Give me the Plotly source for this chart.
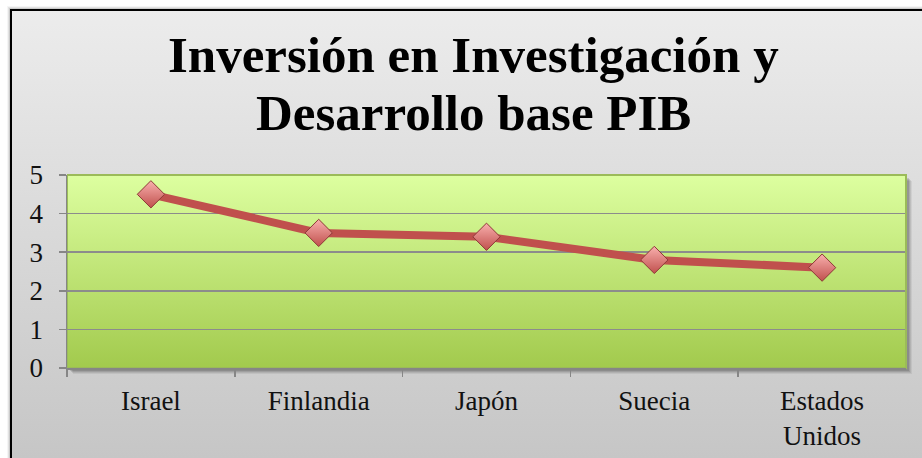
import plotly.graph_objects as go

# ---- data ----
countries = ["Israel", "Finlandia", "Japón", "Suecia", "Estados Unidos"]
tick_labels = ["Israel", "Finlandia", "Japón", "Suecia", "Estados<br>Unidos"]
values = [4.5, 3.5, 3.4, 2.8, 2.6]
y_ticks = [0, 1, 2, 3, 4, 5]

W, H = 922, 458
PL, PR, PT, PB = 67, 906, 175, 368  # plot area in px

fig = go.Figure()

def rect(x0, y0, x1, y1):
    return [x0, x1, x1, x0, x0], [y0, y0, y1, y1, y0]

# outer shadow around the chart border
for off, a in [(4, 0.04), (3, 0.07), (2, 0.1)]:
    xs, ys = rect(11 - off, 10 - off, W + 20, H + 20)
    fig.add_trace(go.Scatter(x=xs, y=ys, mode="lines", fill="toself", line=dict(width=0),
                             fillcolor=f"rgba(0,0,0,{a})", hoverinfo="skip", showlegend=False,
                             xaxis="x", yaxis="y"))
# outer gray gradient
xs, ys = rect(12, 11, W + 20, H + 20)
fig.add_trace(go.Scatter(x=xs, y=ys, mode="lines", fill="toself", line=dict(width=0),
                         fillgradient=dict(type="vertical", start=11, stop=H,
                                           colorscale=[[0, "#ececec"], [1, "#c6c6c6"]]),
                         hoverinfo="skip", showlegend=False, xaxis="x", yaxis="y"))
# plot-area shadow
for off, a in [(6, 0.06), (5, 0.08), (4, 0.1), (3, 0.12)]:
    xs, ys = rect(PL + off, PT + off, PR + off, PB + off)
    fig.add_trace(go.Scatter(x=xs, y=ys, mode="lines", fill="toself", line=dict(width=0),
                             fillcolor=f"rgba(0,0,0,{a})", hoverinfo="skip", showlegend=False,
                             xaxis="x", yaxis="y"))
# green gradient plot area
xs, ys = rect(PL, PT, PR, PB)
fig.add_trace(go.Scatter(x=xs, y=ys, mode="lines", fill="toself", line=dict(width=2, color="#9bbb59"),
                         fillgradient=dict(type="vertical", start=PT, stop=PB,
                                           colorscale=[[0, "#ddffa0"], [1, "#a2ca4d"]]),
                         hoverinfo="skip", showlegend=False, xaxis="x", yaxis="y"))

# data line
fig.add_trace(go.Scatter(
    x=countries, y=values, mode="lines+markers",
    line=dict(color="#c0504d", width=8),
    marker=dict(symbol="diamond", size=21, color="#f9b0ae",
                gradient=dict(type="vertical", color="#c0504d"),
                line=dict(color="#8c3836", width=1)),
    showlegend=False, xaxis="x2", yaxis="y2"))

serif = "Liberation Serif"
fig.update_layout(
    width=W, height=H,
    margin=dict(l=0, r=0, t=0, b=0, autoexpand=False),
    paper_bgcolor="#ffffff", plot_bgcolor="rgba(0,0,0,0)",
    xaxis=dict(domain=[0, 1], range=[0, W], visible=False, fixedrange=True),
    yaxis=dict(domain=[0, 1], range=[H, 0], visible=False, fixedrange=True),
    xaxis2=dict(domain=[PL / W, PR / W], anchor="y2", type="category",
                categoryorder="array", categoryarray=countries,
                tickvals=countries, ticktext=tick_labels,
                range=[-0.5, 4.5], tickson="boundaries", ticks="outside", ticklen=7,
                tickcolor="#868686", tickwidth=1.5,
                showline=True, linecolor="#868686", linewidth=1.5, showgrid=False,
                tickfont=dict(family=serif, size=27, color="#111111"),
                ticklabelstandoff=8),
    yaxis2=dict(domain=[(H - PB) / H, (H - PT) / H], anchor="x2", range=[0, 5],
                tickvals=y_ticks, ticks="outside", ticklen=7, tickcolor="#868686", tickwidth=1.5,
                showline=True, linecolor="#868686", linewidth=1.5,
                showgrid=True, gridcolor="#8c8c8c", gridwidth=1.5,
                tickfont=dict(family=serif, size=27, color="#111111"),
                ticklabelstandoff=10, zeroline=False),
    annotations=[
        dict(text="<b>Inversión en Investigación y</b>", x=473 / W, y=1 - 85 / H,
             xref="paper", yref="paper", xanchor="center", yanchor="bottom", showarrow=False,
             font=dict(family="Liberation Serif", size=51, color="#000000")),
        dict(text="<b>Desarrollo base PIB</b>", x=473 / W, y=1 - 143 / H,
             xref="paper", yref="paper", xanchor="center", yanchor="bottom", showarrow=False,
             font=dict(family="Liberation Serif", size=51, color="#000000")),
    ],
    shapes=[
        dict(type="rect", xref="paper", yref="paper", x0=11 / W, y0=-0.1, x1=1.1, y1=1 - 10 / H,
             line=dict(color="#000000", width=2), fillcolor="rgba(0,0,0,0)"),
        dict(type="path", xref="paper", yref="paper",
             path=f"M {PL / W},{1 - PT / H} L {PR / W},{1 - PT / H} L {PR / W},{1 - PB / H}",
             line=dict(color="#9bbb59", width=2)),
    ],
)

fig.write_html("out.html", config={"displayModeBar": False, "staticPlot": True},
               post_script="document.body.style.margin='0';document.body.style.overflow='hidden';")
